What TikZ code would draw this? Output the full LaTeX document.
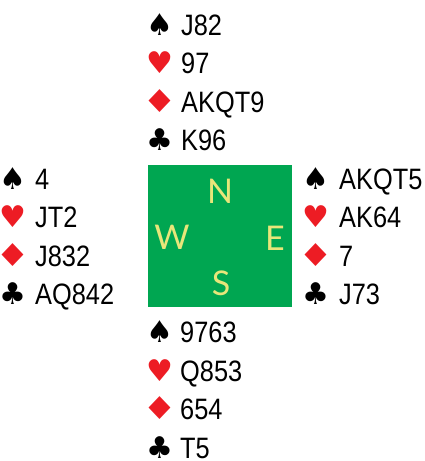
\documentclass[tikz,border=0pt]{standalone}
\usepackage{fontspec}
\setmainfont{Liberation Sans}[FakeStretch=0.86]
\newfontfamily\suitfont{DejaVu Sans}
\newfontfamily\compassfont{Lato}
\definecolor{boardgreen}{RGB}{0,166,81}
\definecolor{cardred}{RGB}{237,28,36}
\definecolor{compassyellow}{RGB}{232,230,122}
\tikzset{
  cards/.style={anchor=base west, inner sep=0pt, font=\fontsize{29.5}{29.5}\selectfont, text=black},
  suit/.style={anchor=base, inner sep=0pt, font=\suitfont\fontsize{30}{30}\selectfont},
  blacksuit/.style={suit, text=black},
  redsuit/.style={suit, text=cardred},
  compass/.style={inner sep=0pt, font=\compassfont\fontsize{34}{34}\selectfont, text=compassyellow},
  board/.style={fill=boardgreen, draw=none, minimum width=144pt, minimum height=142pt, inner sep=0pt},
}
\newcommand\hand[8]{%
  \node[blacksuit] (#1-sp) at (#2,#4) {♠};
  \node[cards] (#1-spc) at (#3,#4) {#5};
  \node[redsuit] (#1-he) at (#2,#4+38.5) {♥};
  \node[cards] (#1-hec) at (#3,#4+38.5) {#6};
  \node[redsuit] (#1-di) at (#2,#4+77) {\scalebox{1.3}[1.05]{♦}};
  \node[cards] (#1-dic) at (#3,#4+77) {#7};
  \node[blacksuit] (#1-cl) at (#2,#4+115.5) {♣};
  \node[cards] (#1-clc) at (#3,#4+115.5) {#8};
}
\begin{document}
\begin{tikzpicture}[x=1pt,y=-1pt]
\useasboundingbox (0,0) rectangle (424,461);
\node[board] (board) at (220,236) {};
\node[compass] (n) at (220,191.5) {N};
\node[compass] (w) at (172,237) {W};
\node[compass] (e) at (275,238) {E};
\node[compass] (s) at (221,283) {S};
\hand{N}{160}{181}{35}{J82}{97}{AKQT9}{K96}
\hand{W}{13}{35}{189}{4}{JT2}{J832}{AQ842}
\hand{E}{316}{339}{189}{AKQT5}{AK64}{7}{J73}
\hand{S}{160}{180}{342.5}{9763}{Q853}{654}{T5}
\end{tikzpicture}
\end{document}
